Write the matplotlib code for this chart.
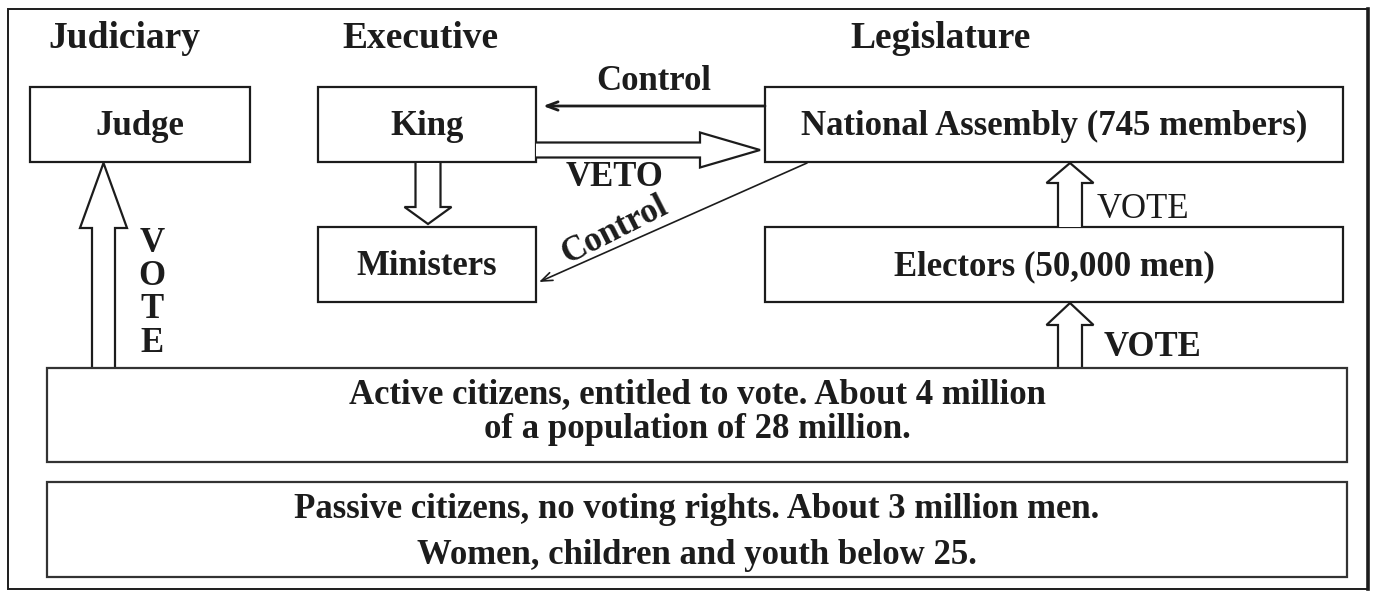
#!/usr/bin/env python3
"""Diagram: the political system under the French Constitution of 1791."""

import matplotlib

matplotlib.use("Agg")
import matplotlib.pyplot as plt
import numpy as np
from matplotlib.patches import Polygon, Rectangle

# --- text content -----------------------------------------------------------
TITLES = ["Judiciary", "Executive", "Legislature"]
BOX_LABELS = ["Judge", "King", "National Assembly (745 members)",
              "Ministers", "Electors (50,000 men)"]
ACTIVE_LINES = ["Active citizens, entitled to vote. About 4 million",
                "of a population of 28 million."]
PASSIVE_LINES = ["Passive citizens, no voting rights. About 3 million men.",
                 "Women, children and youth below 25."]
CONTROL_LABEL = "Control"
VETO_LABEL = "VETO"
VOTE_LABEL = "VOTE"

# --- layout (pixel coordinates, y grows downward) ---------------------------
W, H = 1377, 594
TITLE_POS = [(124, 38), (420, 38), (941, 38)]
BOX_RECTS = [(30, 87, 220, 75), (318, 87, 218, 75), (765, 87, 578, 75),
             (318, 227, 218, 75), (765, 227, 578, 75)]
ACTIVE_RECT = (47, 368, 1300, 94)
PASSIVE_RECT = (47, 482, 1300, 95)
INK = "#1c1c1c"
FONT = ["Liberation Serif", "DejaVu Serif"]


def hollow_arrow(ax, start, end, shaft_w, head_w, head_len, lw=1.6):
    """Draw an outlined (white-filled) block arrow from start to end."""
    p0, p1 = np.asarray(start, float), np.asarray(end, float)
    d = (p1 - p0) / np.linalg.norm(p1 - p0)
    n = np.array([-d[1], d[0]])
    base = p1 - d * head_len
    pts = [p0 + n * shaft_w / 2, base + n * shaft_w / 2, base + n * head_w / 2,
           p1, base - n * head_w / 2, base - n * shaft_w / 2,
           p0 - n * shaft_w / 2]
    ax.add_patch(Polygon(pts, closed=False, facecolor="white",
                         edgecolor=INK, lw=lw, joinstyle="miter", zorder=3))


def label(ax, x, y, s, size=25, weight="bold", **kw):
    ax.text(x, y, s, ha="center", va="center", fontsize=size,
            fontweight=weight, family=FONT, color=INK, **kw)


def main() -> None:
    fig = plt.figure(figsize=(W / 100, H / 100), dpi=100)
    ax = fig.add_axes([0, 0, 1, 1])
    ax.set_xlim(0, W)
    ax.set_ylim(H, 0)
    ax.axis("off")

    # outer frame (right edge drawn heavier, as in the scan)
    ax.add_patch(Rectangle((8, 9), 1360, 580, fill=False, edgecolor=INK, lw=1.4))
    ax.plot([1368, 1368], [9, 589], color=INK, lw=2.6)

    for (x, y), t in zip(TITLE_POS, TITLES):
        label(ax, x, y, t, size=27)

    for (x, y, w, h), t in zip(BOX_RECTS, BOX_LABELS):
        ax.add_patch(Rectangle((x, y), w, h, fill=False, edgecolor=INK,
                               lw=1.6, zorder=2))
        label(ax, x + w / 2, y + h / 2 + 2, t)

    x, y, w, h = ACTIVE_RECT
    ax.add_patch(Rectangle((x, y), w, h, facecolor="white", edgecolor="#333",
                           lw=1.6, zorder=4))
    for t, yy in zip(ACTIVE_LINES, (y + 27, y + 62)):
        label(ax, x + w / 2, yy, t, zorder=5)

    x, y, w, h = PASSIVE_RECT
    ax.add_patch(Rectangle((x, y), w, h, fill=False, edgecolor="#333", lw=1.6))
    for t, yy in zip(PASSIVE_LINES, (y + 27, y + 73)):
        label(ax, x + w / 2, yy, t)

    # block arrows
    hollow_arrow(ax, (103.5, 368), (103.5, 163), 23, 47, 65)
    hollow_arrow(ax, (428, 163), (428, 224), 25, 47, 17)
    hollow_arrow(ax, (536, 150), (760, 150), 15, 35, 60)
    hollow_arrow(ax, (1070, 227), (1070, 163), 24, 47, 20)
    hollow_arrow(ax, (1070, 368), (1070, 303), 24, 47, 22)

    # control arrows
    ax.annotate("", xy=(543, 106), xytext=(765, 106),
                arrowprops=dict(arrowstyle="->,head_length=0.8,head_width=0.3",
                                color=INK, lw=2.0, shrinkA=0, shrinkB=0))
    ax.annotate("", xy=(539, 282), xytext=(807, 163),
                arrowprops=dict(arrowstyle="->,head_length=0.8,head_width=0.3",
                                color=INK, lw=1.2, shrinkA=0, shrinkB=0))
    label(ax, 654, 82, CONTROL_LABEL)
    label(ax, 615, 230, CONTROL_LABEL, rotation=27, rotation_mode="anchor")
    label(ax, 615, 178, VETO_LABEL)

    # vote labels
    for i, ch in enumerate(VOTE_LABEL):
        label(ax, 152, 243 + 33.5 * i, ch)
    label(ax, 1143, 210, VOTE_LABEL, weight="normal")
    label(ax, 1152, 347, VOTE_LABEL)

    fig.savefig("out.png", dpi=100, facecolor="white")
    plt.close(fig)


if __name__ == "__main__":
    main()
